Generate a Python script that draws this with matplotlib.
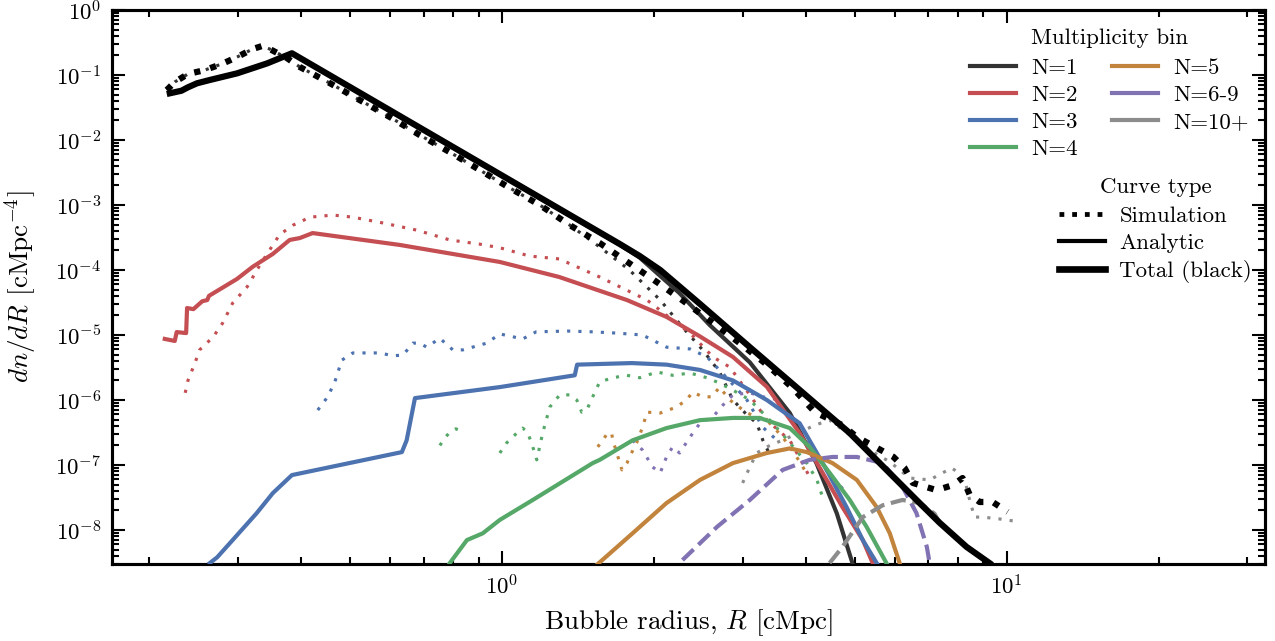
import matplotlib
matplotlib.use("Agg")
import matplotlib.pyplot as plt
from matplotlib.lines import Line2D
from matplotlib.ticker import FixedLocator, NullFormatter

plt.rcParams.update({
    "font.family": "serif",
    "font.serif": ["cmr10"],
    "mathtext.fontset": "cm",
    "axes.formatter.use_mathtext": True,
    "axes.unicode_minus": False,
})

# ---- bubble size distributions, dn/dR [cMpc^-4] vs R [cMpc] ----
# total (all multiplicities)
tot_an_R = [0.220, 0.232, 0.239, 0.249, 0.264, 0.299, 0.343, 0.384, 1.713, 1.876,
            2.06, 2.47, 3.10, 3.89, 4.89, 6.63, 7.37, 8.33, 9.25]
tot_an_n = [0.0523, 0.0573, 0.0647, 0.0745, 0.0838, 0.106, 0.151, 0.216, 2.51e-4,
            1.64e-4, 1.0e-4, 3.0e-5, 6.5e-6, 1.43e-6, 3.1e-7, 2.9e-8, 1.29e-8, 5.5e-9,
            3.1e-9]
tot_sim_R = [0.217, 0.225, 0.239, 0.258, 0.279, 0.299, 0.321, 0.335, 0.347, 0.375,
             0.398, 0.456, 0.523, 0.600, 0.688, 0.789, 0.904, 1.037, 1.189, 1.364,
             1.563, 2.03, 2.32, 2.62, 2.96, 3.35, 3.77, 4.17, 4.73, 5.05, 5.97, 6.28,
             6.52, 7.27, 7.82, 8.18, 8.45, 8.84, 9.38, 10.05]
tot_sim_n = [0.0588, 0.078, 0.1036, 0.119, 0.148, 0.189, 0.251, 0.279, 0.251, 0.183,
             0.133, 0.0753, 0.0412, 0.0226, 0.0119, 6.5e-3, 3.46e-3, 1.83e-3, 1.0e-3,
             4.9e-4, 2.6e-4, 6.5e-5, 3.1e-5, 1.53e-5, 7.5e-6, 3.5e-6, 1.53e-6, 6.5e-7,
             4.1e-7, 2.7e-7, 1.33e-7, 9.0e-8, 5.3e-8, 4.1e-8, 4.9e-8, 6.3e-8, 3.5e-8,
             2.7e-8, 2.7e-8, 1.9e-8]

# N = 1
n1_an_R = [0.220, 0.232, 0.239, 0.249, 0.264, 0.299, 0.343, 0.384, 1.713, 1.876,
           2.25, 2.58, 3.10, 3.72, 4.20, 4.61, 4.95]
n1_an_n = [0.0523, 0.0573, 0.0647, 0.0745, 0.0838, 0.106, 0.151, 0.216, 2.45e-4,
           1.55e-4, 4.4e-5, 1.43e-5, 3.8e-6, 6.3e-7, 1.07e-7, 1.8e-8, 3.1e-9]
n1_sim_R = [0.217, 0.225, 0.239, 0.258, 0.279, 0.299, 0.321, 0.335, 0.347, 0.375,
            0.398, 0.456, 0.523, 0.600, 0.688, 0.789, 0.904, 1.037, 1.189, 1.364,
            1.563, 1.79, 2.06, 2.28, 2.50, 2.70, 2.87, 3.06, 3.20, 3.29, 3.40]
n1_sim_n = [0.0588, 0.078, 0.1036, 0.119, 0.148, 0.189, 0.251, 0.279, 0.251, 0.183,
            0.133, 0.0753, 0.0412, 0.0226, 0.0119, 6.5e-3, 3.46e-3, 1.83e-3, 1.0e-3,
            4.9e-4, 2.26e-4, 1.0e-4, 3.45e-5, 1.32e-5, 5.9e-6, 2.7e-6, 1.0e-6, 5.9e-7,
            4.4e-7, 2.4e-7, 1.42e-7]

# N = 2
n2_an_R = [0.215, 0.225, 0.227, 0.237, 0.238, 0.245, 0.255, 0.261, 0.263, 0.277,
           0.299, 0.321, 0.352, 0.380, 0.398, 0.422, 0.628, 0.991, 1.30, 1.77, 2.12,
           2.47, 2.87, 3.35, 3.89, 4.32, 4.73, 5.19, 5.43]
n2_an_n = [8.7e-6, 8.1e-6, 1.11e-5, 1.07e-5, 2.6e-5, 2.5e-5, 3.3e-5, 3.45e-5, 4.0e-5,
           5.1e-5, 7.3e-5, 1.12e-4, 1.77e-4, 2.9e-4, 3.1e-4, 3.7e-4, 2.43e-4, 1.33e-4,
           7.8e-5, 3.45e-5, 1.9e-5, 9.5e-6, 4.6e-6, 1.6e-6, 3.1e-7, 7.6e-8, 2.25e-8,
           7.0e-9, 3.1e-9]
n2_sim_R = [0.236, 0.239, 0.247, 0.252, 0.268, 0.280, 0.293, 0.313, 0.332, 0.347,
            0.363, 0.386, 0.417, 0.463, 0.507, 0.581, 0.679, 0.789, 0.904, 0.991,
            1.135, 1.30, 1.563, 1.94, 2.18, 2.36, 2.62, 2.83, 3.10, 3.35, 3.72, 3.94,
            4.07]
n2_sim_n = [1.29e-6, 2.0e-6, 3.8e-6, 5.9e-6, 9.3e-6, 1.53e-5, 3.1e-5, 5.5e-5, 1.2e-4,
            2.04e-4, 3.5e-4, 4.9e-4, 6.5e-4, 7.0e-4, 6.5e-4, 5.3e-4, 4.1e-4, 2.9e-4,
            2.5e-4, 2.2e-4, 1.64e-4, 1.48e-4, 7.8e-5, 3.45e-5, 1.7e-5, 1.07e-5, 4.6e-6,
            3.2e-6, 1.2e-6, 4.9e-7, 2.4e-7, 1.07e-7, 6.6e-8]

# N = 3
n3_an_R = [0.264, 0.273, 0.293, 0.327, 0.352, 0.384, 0.634, 0.648, 0.673, 0.991,
           1.395, 1.41, 1.81, 2.12, 2.47, 2.87, 3.35, 3.89, 4.07, 4.40, 4.82, 5.19, 5.53]
n3_an_n = [3.1e-9, 3.8e-9, 7.0e-9, 1.82e-8, 3.7e-8, 7.0e-8, 1.58e-7, 2.4e-7, 1.07e-6,
           1.58e-6, 2.4e-6, 3.5e-6, 3.7e-6, 3.5e-6, 2.9e-6, 2.0e-6, 1.0e-6, 4.4e-7,
           2.4e-7, 8.4e-8, 2.25e-8, 7.0e-9, 3.1e-9]
n3_sim_R = [0.432, 0.452, 0.467, 0.482, 0.507, 0.573, 0.608, 0.637, 0.667, 0.688,
            0.710, 0.754, 0.800, 0.837, 0.934, 0.991, 1.10, 1.17, 1.35, 1.51, 1.69,
            1.90, 2.12, 2.36, 2.55, 2.79, 3.06, 3.29, 3.51]
n3_sim_n = [7.0e-7, 1.12e-6, 1.9e-6, 4.1e-6, 5.3e-6, 5.3e-6, 4.8e-6, 4.9e-6, 7.5e-6,
            7.5e-6, 6.5e-6, 8.9e-6, 5.9e-6, 5.9e-6, 7.5e-6, 1.04e-5, 8.7e-6, 1.12e-5,
            1.15e-5, 1.12e-5, 1.07e-5, 1.0e-5, 6.5e-6, 6.1e-6, 4.6e-6, 2.2e-6, 1.0e-6,
            3.8e-7, 2.4e-7]

# N = 4
n4_an_R = [0.789, 0.853, 0.917, 0.991, 1.152, 1.514, 1.563, 1.816, 2.12, 2.47, 2.87,
           3.24, 3.72, 4.07, 4.46, 4.89, 5.28, 5.78]
n4_an_n = [3.1e-9, 7.0e-9, 8.9e-9, 1.43e-8, 2.9e-8, 1.07e-7, 1.2e-7, 2.4e-7, 3.7e-7,
           4.9e-7, 5.3e-7, 5.3e-7, 3.7e-7, 1.9e-7, 7.6e-8, 2.9e-8, 1.12e-8, 3.1e-9]
n4_sim_R = [0.754, 0.771, 0.789, 0.811, 0.837, float("nan"),
            0.991, 1.023, 1.071, 1.10, 1.125, 1.152, 1.173, 1.205, 1.245, 1.303, 1.364,
            1.408, 1.44, 1.473, 1.514, 1.563, 1.66, 1.77, 1.876, 2.03, 2.18, 2.36, 2.55,
            2.70, 2.87, 3.10, 3.29, 3.44, 3.72, 4.02, 4.21, 4.32]
n4_sim_n = [2.0e-7, 2.6e-7, 3.2e-7, 3.6e-7, 3.3e-7, float("nan"),
            1.53e-7, 2.2e-7, 3.1e-7, 3.7e-7, 3.2e-7, 1.9e-7, 1.2e-7, 3.1e-7, 7.8e-7,
            1.2e-6, 1.2e-6, 1.0e-6, 6.5e-7, 7.0e-7, 1.12e-6, 1.9e-6, 2.2e-6, 2.4e-6,
            2.2e-6, 2.7e-6, 2.4e-6, 2.6e-6, 2.2e-6, 1.82e-6, 1.42e-6, 1.0e-6, 6.3e-7,
            4.4e-7, 2.2e-7, 1.07e-7, 5.9e-8, 3.2e-8]

# N = 5
n5_an_R = [1.542, 1.816, 2.12, 2.47, 2.87, 3.35, 3.72, 4.02, 4.52, 5.05, 5.53, 5.87, 6.14]
n5_an_n = [2.9e-9, 8.9e-9, 2.6e-8, 5.9e-8, 1.07e-7, 1.53e-7, 1.8e-7, 1.58e-7, 1.07e-7,
           5.9e-8, 2.25e-8, 8.9e-9, 3.1e-9]
n5_sim_R = [1.549, 1.585, 1.62, 1.65, 1.66, 1.69, 1.73, 1.77, 1.79, 1.85, 1.90, 1.94,
            2.06, 2.22, 2.32, 2.39, 2.50, 2.61, 2.70, 2.83, 3.06, 3.35, 3.60, 3.84, 3.98]
n5_sim_n = [1.9e-7, 2.4e-7, 3.1e-7, 3.1e-7, 2.4e-7, 1.53e-7, 8.4e-8, 1.07e-7, 1.32e-7,
            2.2e-7, 3.8e-7, 6.5e-7, 6.3e-7, 7.8e-7, 1.0e-6, 1.32e-6, 1.12e-6, 1.12e-6,
            1.58e-6, 1.0e-6, 6.3e-7, 4.9e-7, 2.7e-7, 1.32e-7, 8.4e-8]

# N = 6-9
n69_an_R = [2.28, 2.67, 3.10, 3.60, 4.07, 4.52, 5.05, 5.68, 6.22, 6.63, 6.95, 7.04]
n69_an_n = [3.45e-9, 1.12e-8, 2.9e-8, 8.4e-8, 1.2e-7, 1.33e-7, 1.33e-7, 1.07e-7, 4.6e-8,
            1.82e-8, 5.5e-9, 3.1e-9]
n69_sim_R = [1.816, 1.90, 1.99, 2.06, 2.12, 2.18, 2.25, 2.32, 2.39, 2.47, 2.62, 2.74,
             2.87, 3.10, 3.29, 3.55, 3.77, 4.07, 4.46, 4.77]
n69_sim_n = [2.4e-7, 1.7e-7, 9.3e-8, 7.6e-8, 1.33e-7, 1.9e-7, 1.53e-7, 2.2e-7, 3.1e-7,
             4.4e-7, 5.5e-7, 8.3e-7, 1.2e-6, 1.29e-6, 1.12e-6, 1.0e-6, 4.9e-7, 2.0e-7,
             7.0e-8, 4.1e-8]

# N = 10+
n10_an_R = [4.46, 4.73, 5.19, 5.68, 6.22, 6.72, 7.20, 7.37, 8.33, 9.25]
n10_an_n = [3.1e-9, 5.5e-9, 1.58e-8, 2.4e-8, 2.9e-8, 2.6e-8, 1.78e-8, 1.29e-8, 5.5e-9,
            3.1e-9]
n10_sim_R = [3.0, 3.10, 3.20, 3.35, 3.72, 4.17, 4.46, 4.89, 5.35, 5.87, 6.43, 7.04,
             7.78, 8.0, 8.26, 8.45, 8.64, 8.96, 9.68, 10.66]
n10_sim_n = [5.3e-8, 9.3e-8, 1.53e-7, 1.9e-7, 2.7e-7, 4.1e-7, 4.9e-7, 2.9e-7, 1.7e-7,
             1.12e-7, 6.3e-8, 5.9e-8, 9.0e-8, 7.8e-8, 5.9e-8, 2.9e-8, 1.58e-8, 1.58e-8,
             1.48e-8, 1.33e-8]

bins = ["N=1", "N=2", "N=3", "N=4", "N=5", "N=6-9", "N=10+"]
colors = ["#333333", "#C44E52", "#4C72B0", "#55A868", "#C2843C", "#8172B3", "#8C8C8C"]

analytic = [(n1_an_R, n1_an_n), (n2_an_R, n2_an_n), (n3_an_R, n3_an_n), (n4_an_R, n4_an_n),
            (n5_an_R, n5_an_n), (n69_an_R, n69_an_n), (n10_an_R, n10_an_n)]
simulated = [(n1_sim_R, n1_sim_n), (n2_sim_R, n2_sim_n), (n3_sim_R, n3_sim_n),
             (n4_sim_R, n4_sim_n), (n5_sim_R, n5_sim_n), (n69_sim_R, n69_sim_n),
             (n10_sim_R, n10_sim_n)]
an_styles = ["-", "-", "-", "-", "-", "--", "--"]

W, H = 1275, 641
fig = plt.figure(figsize=(W / 150, H / 150), dpi=150)
ax = fig.add_axes([112 / W, 1 - 564 / H, 1153 / W, 554 / H])

for (R, n), c in zip(simulated, colors):
    ax.plot(R, n, color=c, lw=1.5, linestyle=(0, (1, 2.6)), zorder=2)
for (R, n), c, ls in zip(analytic, colors, an_styles):
    ax.plot(R, n, color=c, lw=2.0, linestyle=ls, zorder=3)

ax.plot(tot_sim_R, tot_sim_n, color="k", lw=3.0, linestyle=":", zorder=4)
ax.plot(tot_an_R, tot_an_n, color="k", lw=3.0, linestyle="-", zorder=5)

ax.set_xscale("log")
ax.set_yscale("log")
ax.set_xlim(0.169, 32.5)
ax.set_ylim(3.0e-9, 1.0)

# decade ticks and 2..9 minor ticks, restricted to the visible range
x_major = [1.0, 10.0]
x_minor = [m * 10.0 ** e for e in (-1, 0, 1) for m in range(2, 10)
           if 0.169 <= m * 10.0 ** e <= 32.5]
y_major = [10.0 ** e for e in range(-8, 1)]
y_minor = [m * 10.0 ** e for e in range(-9, 0) for m in range(2, 10)
           if 3.0e-9 <= m * 10.0 ** e <= 1.0]
ax.xaxis.set_major_locator(FixedLocator(x_major))
ax.xaxis.set_minor_locator(FixedLocator(x_minor))
ax.yaxis.set_major_locator(FixedLocator(y_major))
ax.yaxis.set_minor_locator(FixedLocator(y_minor))
ax.xaxis.set_minor_formatter(NullFormatter())
ax.yaxis.set_minor_formatter(NullFormatter())

ax.tick_params(which="both", direction="in", top=True, right=True, width=1.0,
               labelsize=11)
ax.tick_params(which="major", length=6.2, pad=5)
ax.tick_params(which="minor", length=3.4)
for sp in ax.spines.values():
    sp.set_linewidth(1.5)

ax.set_xlabel(r"Bubble radius, $R$ [cMpc]", fontsize=13, labelpad=4)
ax.set_ylabel(r"$dn/dR$ [cMpc$^{-4}$]", fontsize=13, labelpad=8)

bin_handles = [Line2D([], [], color=c, lw=2.0) for c in colors]
leg1 = ax.legend(bin_handles, bins, title="Multiplicity bin", ncol=2, frameon=False,
                 fontsize=11, title_fontsize=11, loc="upper center",
                 bbox_to_anchor=(0.865, 0.995), handlelength=2.0, handletextpad=0.65,
                 columnspacing=1.5, labelspacing=0.3, borderpad=0.2)
leg1._legend_box.sep = 11 * 0.3 + 1.5
ax.add_artist(leg1)

type_handles = [Line2D([], [], color="k", lw=2.3, linestyle=":"),
                Line2D([], [], color="k", lw=2.0),
                Line2D([], [], color="k", lw=3.2)]
leg2 = ax.legend(type_handles, ["Simulation", "Analytic", "Total (black)"],
                 title="Curve type", frameon=False, fontsize=11, title_fontsize=11,
                 loc="upper center", bbox_to_anchor=(0.905, 0.726), handlelength=2.0,
                 handletextpad=0.65, labelspacing=0.3, borderpad=0.2)
leg2._legend_box.sep = 11 * 0.3 + 1.0

fig.savefig("out.png", dpi=150)
